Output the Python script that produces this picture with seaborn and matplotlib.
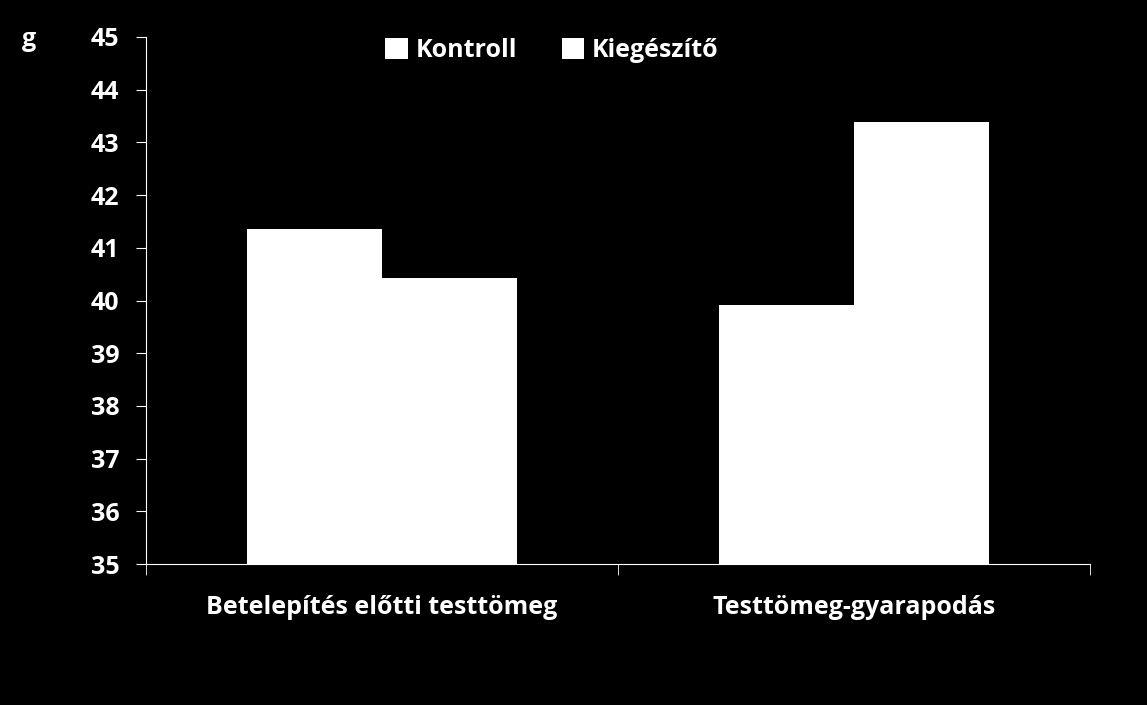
import matplotlib
matplotlib.use("Agg")
import matplotlib.pyplot as plt
import seaborn as sns
import pandas as pd

categories = ["Betelepítés előtti testtömeg", "Testtömeg-gyarapodás"]
series = ["Kontroll", "Kiegészítő"]
kontroll = [41.36, 39.91]
kiegeszito = [40.43, 43.39]

df = pd.DataFrame({
    "cat": categories * 2,
    "grp": [series[0]] * 2 + [series[1]] * 2,
    "val": kontroll + kiegeszito,
})

plt.rcParams["font.family"] = "Open Sans"
plt.rcParams["font.weight"] = "bold"
fig = plt.figure(figsize=(11.47, 7.05), dpi=100, facecolor="black")
ax = fig.add_axes([146/1147, 1-564/705, (1090-146)/1147, (564-37)/705], facecolor="black")
sns.barplot(data=df, x="cat", y="val", hue="grp", palette=["white", "white"],
            width=0.572, ax=ax, saturation=1)
ax.set_ylim(35, 45)
ax.set_xlim(-0.5, 1.5)
ax.set_yticks(range(35, 46))
ax.set_xticks([0, 1])
ax.set_xticklabels(categories)
ax.set_xticks([-0.5, 0.5, 1.5], minor=True)
ax.tick_params(axis="x", which="major", length=0, pad=22, colors="white", labelsize=18)
ax.tick_params(axis="x", which="minor", length=8, color="white", direction="out")
ax.tick_params(axis="y", length=7, color="white", labelcolor="white", labelsize=18, pad=12)
for s in ["top", "right"]:
    ax.spines[s].set_visible(False)
for s in ["left", "bottom"]:
    ax.spines[s].set_color("white")
ax.set_xlabel("")
ax.set_ylabel("")
fig.text(22/1147, 1-40/705, "g", color="white", fontsize=18, fontweight="bold", va="center")
leg = ax.legend(loc="upper center", bbox_to_anchor=(0.43, 1.04), ncol=2, frameon=False,
                fontsize=18, labelcolor="white", handlelength=0.9, handleheight=0.9,
                handletextpad=0.3, columnspacing=1.8)
for t in ax.get_xticklabels() + ax.get_yticklabels():
    t.set_fontweight("bold")
fig.savefig("out.png", facecolor="black")
